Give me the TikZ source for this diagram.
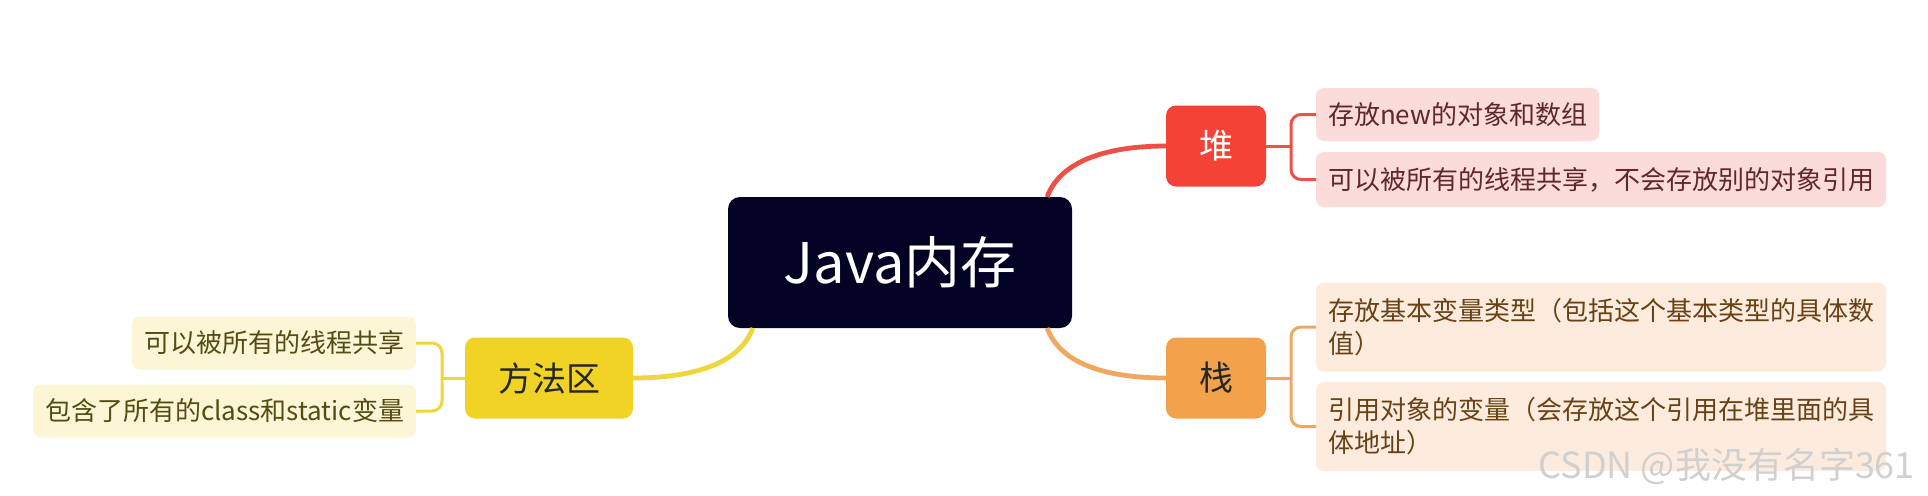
\documentclass[tikz,border=0pt]{standalone}
\usepackage{fontspec}
\setmainfont{Noto Sans CJK SC}
\usepackage{xcolor}
\definecolor{rootfill}{RGB}{2,2,36}
\definecolor{heapred}{RGB}{244,67,54}
\definecolor{heapline}{RGB}{238,80,70}
\definecolor{heaplight}{RGB}{252,219,219}
\definecolor{heaptext}{RGB}{96,40,40}
\definecolor{stackorange}{RGB}{243,162,76}
\definecolor{stackline}{RGB}{240,168,96}
\definecolor{stacklight}{RGB}{253,236,222}
\definecolor{stacktext}{RGB}{104,66,22}
\definecolor{methodyellow}{RGB}{241,211,38}
\definecolor{methodline}{RGB}{240,214,60}
\definecolor{methodlight}{RGB}{253,246,214}
\definecolor{methodtext}{RGB}{84,76,20}
\definecolor{wmgray}{RGB}{208,208,208}
\usepackage{tikz}
\usetikzlibrary{calc}
\newcommand{\forkgap}{25}
\tikzset{
    common/.style={inner sep=0pt, outer sep=0pt},
    root/.style={common, fill=rootfill, text=white, rounded corners=6pt,
        minimum width=172pt, minimum height=65.5pt, font=\fontsize{28}{32}\selectfont},
    topic/.style={common, rounded corners=5pt, minimum height=40.5pt,
        font=\fontsize{17}{20}\selectfont},
    leaf/.style={common, rounded corners=4pt, inner xsep=6pt, minimum height=26.5pt,
        align=left, font=\fontsize{13}{16.5}\selectfont},
    heapleaf/.style={leaf, fill=heaplight, text=heaptext},
    stackleaf/.style={leaf, fill=stacklight, text=stacktext, minimum height=44.5pt},
    methodleaf/.style={leaf, fill=methodlight, text=methodtext},
    branch/.style={line width=2.4pt},
    twig/.style={line width=1.5pt, rounded corners=5pt}
}

\begin{document}
\begin{tikzpicture}[x=0.5pt, y=-0.5pt]
    \useasboundingbox (0,0) rectangle (1928,495);

    \path
        node[root] (java) at (900,262.5) {Java内存}
        node[topic, fill=heapred, text=white, minimum width=50pt] (heap) at (1216,146) {堆}
        node[topic, fill=stackorange, text=black!85, minimum width=50pt] (stack) at (1216,378) {栈}
        node[topic, fill=methodyellow, text=black!85, minimum width=84pt] (method) at (549,378) {方法区};

    \path
        node[heapleaf, anchor=west] (heap-new) at (1316,114.5) {存放new的对象和数组}
        node[heapleaf, anchor=west, minimum height=27.5pt] (heap-share) at (1316,179.5)
            {可以被所有的线程共享，不会存放别的对象引用}
        node[stackleaf, anchor=west] (stack-basic) at (1316,327)
            {存放基本变量类型（包括这个基本类型的具体数\\值）}
        node[stackleaf, anchor=west] (stack-ref) at (1316,426.5)
            {引用对象的变量（会存放这个引用在堆里面的具\\体地址）}
        node[methodleaf, anchor=east] (method-share) at (416,343) {可以被所有的线程共享}
        node[methodleaf, anchor=east] (method-class) at (416,411) {包含了所有的class和static变量};

    \node[anchor=east, text=wmgray, font=\fontsize{18}{20}\selectfont] (mark-csdn) at (1922,466)
        {CSDN @我没有名字361};

    \coordinate (heap-fork) at ($(heap.east)+(\forkgap,0)$);
    \coordinate (stack-fork) at ($(stack.east)+(\forkgap,0)$);
    \coordinate (method-fork) at ($(method.west)-(23,0)$);

    \draw[branch, heapline] (java.24) .. controls +(14,-38) and +(-55,0) .. (heap.west);
    \draw[branch, stackline] (java.-24) .. controls +(14,38) and +(-55,0) .. (stack.west);
    \draw[branch, methodline] (java.204) .. controls +(-14,38) and +(55,0) .. (method.east);

    \draw[twig, heapline] (heap.east) -- (heap-fork);
    \draw[twig, heapline] (heap-new.west) -| (heap-fork);
    \draw[twig, heapline] (heap-share.west) -| (heap-fork);
    \draw[twig, stackline] (stack.east) -- (stack-fork);
    \draw[twig, stackline] (stack-basic.west) -| (stack-fork);
    \draw[twig, stackline] (stack-ref.west) -| (stack-fork);
    \draw[twig, methodline] (method.west) -- (method-fork);
    \draw[twig, methodline] (method-share.east) -| (method-fork);
    \draw[twig, methodline] (method-class.east) -| (method-fork);
\end{tikzpicture}
\end{document}
